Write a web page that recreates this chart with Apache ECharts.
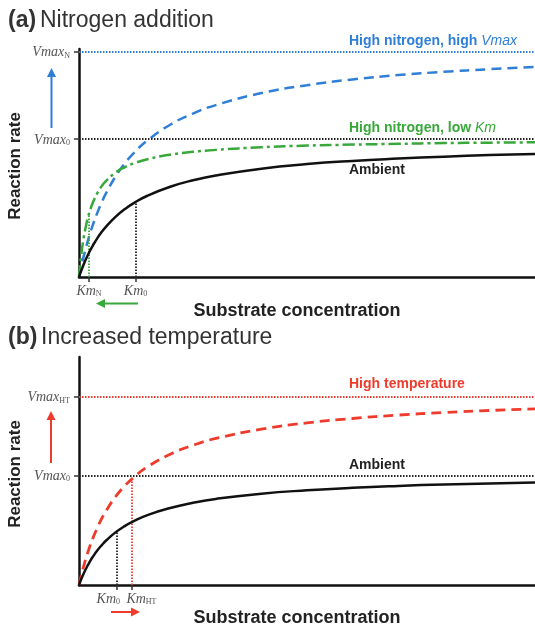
<!DOCTYPE html>
<html>
<head>
<meta charset="utf-8">
<script src="https://cdn.jsdelivr.net/npm/echarts@6/dist/echarts.min.js"></script>
<style>
  html, body { margin: 0; padding: 0; background: #fff; }
  #chart { width: 535px; height: 631px; }
</style>
</head>
<body>
<div id="chart"></div>
<script>
// substrate concentration (shared by both panels, arbitrary units 0..100)
const conc = [0, 0.5, 1, 1.5, 2, 2.5, 3, 4, 5, 6, 8, 10, 12, 15, 20, 25, 30, 40, 50, 60, 70, 80, 90, 100];

// (a) nitrogen addition, reaction rate relative to Vmax0
const ambientA = [0, 0.047, 0.089, 0.128, 0.163, 0.196, 0.226, 0.28, 0.327, 0.367, 0.435, 0.49, 0.535, 0.588, 0.653, 0.7, 0.735, 0.784, 0.817, 0.84, 0.857, 0.871, 0.882, 0.891];
const highVmaxA = [0, 0.076, 0.146, 0.21, 0.269, 0.323, 0.373, 0.463, 0.542, 0.611, 0.726, 0.82, 0.896, 0.988, 1.102, 1.183, 1.244, 1.331, 1.388, 1.43, 1.461, 1.485, 1.504, 1.52];
const lowKmA = [0, 0.161, 0.278, 0.366, 0.435, 0.49, 0.536, 0.606, 0.658, 0.698, 0.755, 0.794, 0.822, 0.852, 0.885, 0.906, 0.92, 0.939, 0.951, 0.958, 0.964, 0.969, 0.972, 0.975];

// (b) increased temperature
const ambientB = [0, 0.054, 0.102, 0.146, 0.185, 0.222, 0.255, 0.314, 0.364, 0.408, 0.48, 0.537, 0.583, 0.638, 0.703, 0.75, 0.785, 0.833, 0.864, 0.887, 0.904, 0.917, 0.927, 0.936];
const highTempB = [0, 0.088, 0.168, 0.24, 0.306, 0.367, 0.422, 0.521, 0.607, 0.681, 0.805, 0.903, 0.982, 1.078, 1.193, 1.275, 1.337, 1.422, 1.479, 1.519, 1.55, 1.573, 1.592, 1.607];

// reference levels: [Vmax0, Vmax of treatment], Km values with curve height at that Km
const vmaxA = [1, 1.63];          // Vmax0, VmaxN
const kmA = [2.2, 12.4];          // KmN, Km0
const kmTopA = [0.458, 0.54];
const vmaxB = [1, 1.72];          // Vmax0, VmaxHT
const kmB = [8.3, 11.5];          // Km0, KmHT
const kmTopB = [0.487, 0.964];

const BLUE = '#2f7fd6', GREEN = '#38a83a', RED = '#ee3b2c', INK = '#111';
const SANS = '"Liberation Sans", Arial, sans-serif';
const SERIF = '"Liberation Serif", "Times New Roman", serif';

const pairs = (ys) => conc.map((x, i) => [x, ys[i]]);

function tickRich(padL, padR) {
    return {
        i: { fontFamily: SERIF, fontStyle: 'italic', fontSize: 14, color: '#555', lineHeight: 16, verticalAlign: 'bottom', padding: [0, 0, 0, padL] },
        s: { fontFamily: SERIF, fontSize: 8, color: '#555', lineHeight: 13, verticalAlign: 'bottom', padding: [0, padR, 0, 0] }
    };
}

function vLine(x, top, color) {
    return [{ coord: [x, 0], lineStyle: { color: color } }, { coord: [x, top] }];
}
function hLine(y, color) {
    return { yAxis: y, lineStyle: { color: color } };
}

function arrow(x1, y1, x2, y2, color) {
    const ang = Math.atan2(y2 - y1, x2 - x1);
    const L = 9, W = 4.5;
    const bx = x2 - L * Math.cos(ang), by = y2 - L * Math.sin(ang);
    const px = -Math.sin(ang) * W, py = Math.cos(ang) * W;
    return [
        { type: 'line', shape: { x1: x1, y1: y1, x2: bx, y2: by }, style: { stroke: color, lineWidth: 2 } },
        { type: 'polygon', shape: { points: [[x2, y2], [bx + px, by + py], [bx - px, by - py]] }, style: { fill: color } }
    ];
}

function txt(x, y, text, opts) {
    return { type: 'text', x: x, y: y, style: Object.assign({ text: text, verticalAlign: 'middle' }, opts) };
}

const dotted = { type: [1.5, 1.5], width: 1.8 };
const markDefaults = { symbol: ['none', 'none'], silent: true, label: { show: false }, animation: false };

// one x axis per Km tick so that close labels are never dropped as overlapping
function kmAxis(gridIndex, value, name, padL, padR, showLine) {
    return {
        type: 'value', gridIndex: gridIndex, min: 0, max: 100, position: 'bottom',
        axisLine: { show: showLine, onZero: false, lineStyle: { color: INK, width: 2.5 } },
        splitLine: { show: false },
        axisTick: { customValues: [value], length: 5, lineStyle: { color: '#333', width: 1.5 } },
        axisLabel: {
            customValues: [value], margin: 5,
            formatter: () => '{i|Km}{s|' + name + '}', rich: tickRich(padL, padR)
        }
    };
}

function vmaxAxis(gridIndex, yMax, yTicks, yNames) {
    return {
        type: 'value', gridIndex: gridIndex, min: 0, max: yMax,
        axisLine: { show: true, lineStyle: { color: INK, width: 2.5 } },
        splitLine: { show: false },
        axisTick: { customValues: yTicks, length: 5, lineStyle: { color: '#333', width: 1.5 } },
        axisLabel: {
            customValues: yTicks, margin: 9,
            formatter: (v) => '{i|Vmax}{s|' + yNames[yTicks.indexOf(v)] + '}', rich: tickRich(0, 0)
        }
    };
}

const lineBase = { type: 'line', smooth: true, showSymbol: false };

const myChart = echarts.init(document.getElementById('chart'));
const option = {
    animation: false,
    grid: [
        { left: 79, top: 49, width: 456, height: 228 },
        { left: 79, top: 357, width: 456, height: 228 }
    ],
    xAxis: [
        kmAxis(0, kmA[0], 'N', 0, 0, true),
        kmAxis(0, kmA[1], '0', 0, 0, false),
        kmAxis(1, kmB[0], '0', 0, 17, true),
        kmAxis(1, kmB[1], 'HT', 20, 0, false)
    ],
    yAxis: [
        vmaxAxis(0, 1.65, vmaxA, ['0', 'N']),
        vmaxAxis(1, 2.08, vmaxB, ['0', 'HT'])
    ],
    series: [
        Object.assign({}, lineBase, {
            name: 'Ambient', xAxisIndex: 0, yAxisIndex: 0, data: pairs(ambientA), z: 5,
            lineStyle: { color: INK, width: 2.5 },
            markLine: Object.assign({}, markDefaults, {
                lineStyle: dotted,
                data: [hLine(vmaxA[0], '#222'), hLine(vmaxA[1], BLUE), vLine(kmA[0], kmTopA[0], GREEN), vLine(kmA[1], kmTopA[1], '#222')]
            })
        }),
        Object.assign({}, lineBase, {
            name: 'High nitrogen, high Vmax', xAxisIndex: 0, yAxisIndex: 0, data: pairs(highVmaxA), z: 4,
            lineStyle: { color: BLUE, width: 2.5, type: [10, 6] }
        }),
        Object.assign({}, lineBase, {
            name: 'High nitrogen, low Km', xAxisIndex: 0, yAxisIndex: 0, data: pairs(lowKmA), z: 4,
            lineStyle: { color: GREEN, width: 2.5, type: [12, 4, 3, 4] }
        }),
        Object.assign({}, lineBase, {
            name: 'Ambient', xAxisIndex: 2, yAxisIndex: 1, data: pairs(ambientB), z: 5,
            lineStyle: { color: INK, width: 2.5 },
            markLine: Object.assign({}, markDefaults, {
                lineStyle: dotted,
                data: [hLine(vmaxB[0], '#222'), hLine(vmaxB[1], RED), vLine(kmB[0], kmTopB[0], '#222'), vLine(kmB[1], kmTopB[1], RED)]
            })
        }),
        Object.assign({}, lineBase, {
            name: 'High temperature', xAxisIndex: 2, yAxisIndex: 1, data: pairs(highTempB), z: 4,
            lineStyle: { color: RED, width: 2.8, type: [10, 6] }
        })
    ],
    graphic: [
        // panel titles
        txt(8, 21, '(a)', { font: 'bold 23px ' + SANS, fill: '#333' }),
        txt(40, 21, 'Nitrogen addition', { font: '23px ' + SANS, fill: '#333' }),
        txt(8, 338, '(b)', { font: 'bold 23px ' + SANS, fill: '#333' }),
        txt(41, 338, 'Increased temperature', { font: '23px ' + SANS, fill: '#333' }),
        // axis names
        Object.assign(txt(15, 166, 'Reaction rate', { font: 'bold 17px ' + SANS, fill: '#222', align: 'center' }), { rotation: Math.PI / 2 }),
        Object.assign(txt(15, 474, 'Reaction rate', { font: 'bold 17px ' + SANS, fill: '#222', align: 'center' }), { rotation: Math.PI / 2 }),
        txt(297, 311, 'Substrate concentration', { font: 'bold 18px ' + SANS, fill: '#222', align: 'center' }),
        txt(297, 618, 'Substrate concentration', { font: 'bold 18px ' + SANS, fill: '#222', align: 'center' }),
        // curve labels
        txt(349, 41, '{b|High nitrogen, high }{i|Vmax}', {
            rich: { b: { font: 'bold 14px ' + SANS, fill: BLUE }, i: { font: 'italic 14px ' + SANS, fill: BLUE } }
        }),
        txt(349, 128, '{b|High nitrogen, low }{i|Km}', {
            rich: { b: { font: 'bold 14px ' + SANS, fill: GREEN }, i: { font: 'italic 14px ' + SANS, fill: GREEN } }
        }),
        txt(349, 170, 'Ambient', { font: 'bold 14px ' + SANS, fill: '#222' }),
        txt(349, 384, 'High temperature', { font: 'bold 14px ' + SANS, fill: RED }),
        txt(349, 465, 'Ambient', { font: 'bold 14px ' + SANS, fill: '#222' })
    ]
        .concat(arrow(51.5, 128, 51.5, 68, BLUE))
        .concat(arrow(138, 303.5, 96, 303.5, GREEN))
        .concat(arrow(51, 463, 51, 411, RED))
        .concat(arrow(111, 612, 140, 612, RED))
};
myChart.setOption(option);
window.addEventListener('resize', () => {
    myChart.resize();
});
</script>
</body>
</html>
